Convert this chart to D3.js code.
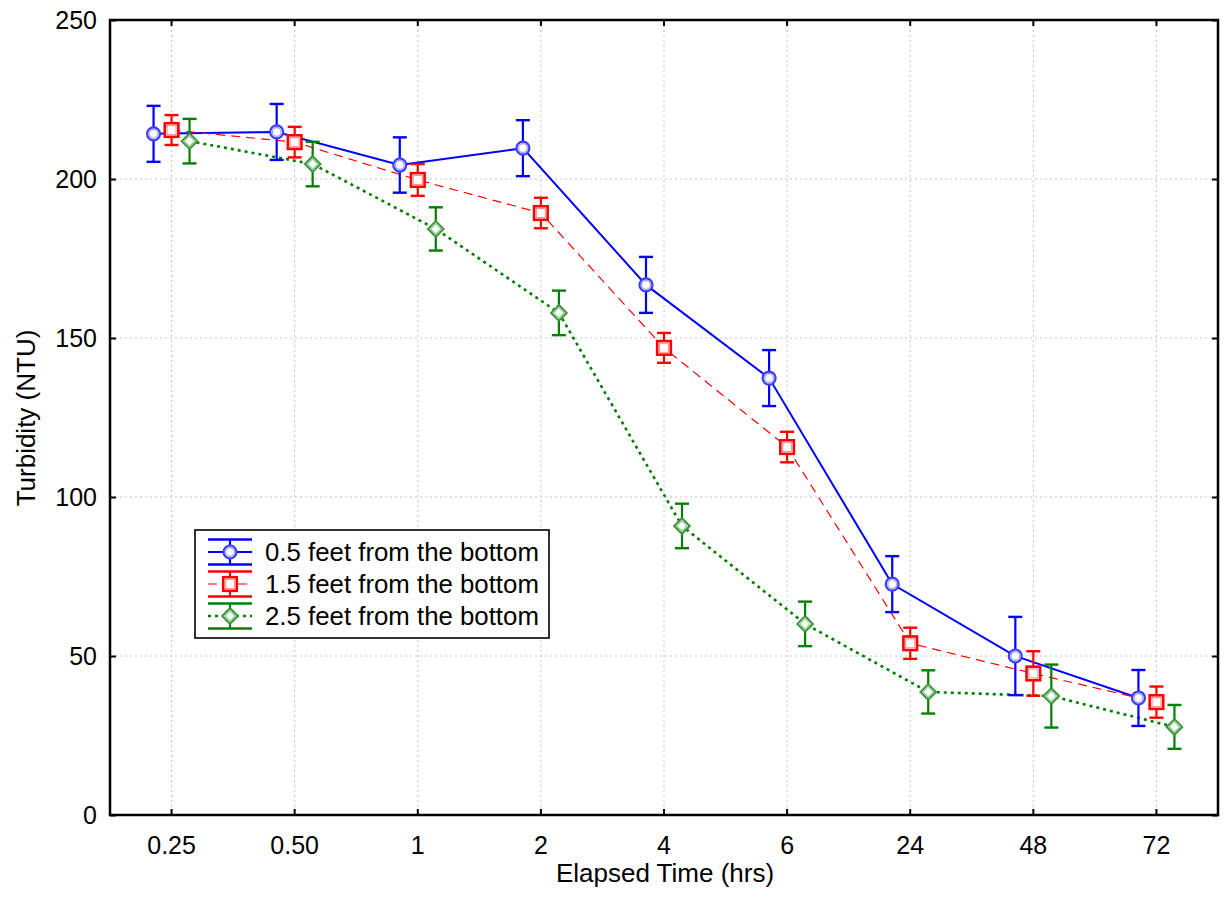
<!DOCTYPE html>
<html>
<head>
<meta charset="utf-8">
<script src="https://cdn.jsdelivr.net/npm/d3@7"></script>
<style>
  html, body { margin: 0; padding: 0; background: #fff; }
  svg { display: block; font-family: "Liberation Sans", Arial, sans-serif; }
</style>
</head>
<body>
<svg id="chart" width="1225" height="914"></svg>
<script>
// Elapsed time categories (hrs)
const categories = ["0.25", "0.50", "1", "2", "4", "6", "24", "48", "72"];
const yTicks = [0, 50, 100, 150, 200, 250];

// Mean turbidity (NTU) and error half-widths for each sampling depth
const series05Mean = [214.2, 214.8, 204.4, 209.7, 166.7, 137.4, 72.6, 50.0, 36.8];
const series05Err  = [8.8, 8.8, 8.7, 8.8, 8.8, 8.8, 8.8, 12.3, 8.8];
const series15Mean = [215.4, 211.6, 199.7, 189.3, 146.9, 115.7, 54.0, 44.5, 35.5];
const series15Err  = [4.7, 4.8, 5.0, 4.8, 4.7, 4.8, 4.9, 7.0, 4.9];
const series25Mean = [211.9, 204.7, 184.3, 157.9, 90.9, 60.1, 38.7, 37.4, 27.7];
const series25Err  = [7.0, 7.0, 6.8, 7.0, 7.0, 7.0, 6.8, 9.9, 6.9];

const seriesNames = ["0.5 feet from the bottom", "1.5 feet from the bottom", "2.5 feet from the bottom"];

const svg = d3.select("#chart");
const margin = { left: 110, top: 20, right: 1218, bottom: 815 };

const x = d3.scaleBand().domain(categories).range([margin.left, margin.right]);
const y = d3.scaleLinear().domain([0, 250]).range([margin.bottom, margin.top]);
const cx = c => x(c) + x.bandwidth() / 2;

const styles = [
  { color: "#0000ff", light: "#9999ff", dash: null, width: 2, shift: -18, marker: "circle" },
  { color: "#ff0000", light: "#ff9999", dash: "9,6", width: 1.2, shift: 0, marker: "square" },
  { color: "#007f00", light: "#88c488", dash: "3,4", width: 2.6, shift: 18, marker: "diamond" }
];
const stroke = ["#3b3bff", "#ff0000", "#3a943a"];

const data = [
  { name: seriesNames[0], mean: series05Mean, err: series05Err, st: styles[0] },
  { name: seriesNames[1], mean: series15Mean, err: series15Err, st: styles[1] },
  { name: seriesNames[2], mean: series25Mean, err: series25Err, st: styles[2] }
];

// Grid
const grid = svg.append("g").attr("stroke", "#c4c4c4").attr("stroke-width", 1).attr("stroke-dasharray", "2,3");
grid.selectAll("line.v").data(categories).join("line")
  .attr("x1", cx).attr("x2", cx).attr("y1", margin.top).attr("y2", margin.bottom);
grid.selectAll("line.h").data(yTicks.filter(t => t > 0 && t < 250)).join("line")
  .attr("x1", margin.left).attr("x2", margin.right).attr("y1", d => y(d)).attr("y2", d => y(d));

// Axes with inward ticks
const fontSize = 25;
const titleSize = 26;
const xAxis = svg.append("g").attr("transform", `translate(0,${margin.bottom})`)
  .call(d3.axisBottom(x).tickSizeInner(-6).tickSizeOuter(0).tickPadding(21));
const yAxis = svg.append("g").attr("transform", `translate(${margin.left},0)`)
  .call(d3.axisLeft(y).tickValues(yTicks).tickSizeInner(-6).tickSizeOuter(0).tickPadding(13));
const xTop = svg.append("g").attr("transform", `translate(0,${margin.top})`)
  .call(d3.axisTop(x).tickSizeInner(-6).tickSizeOuter(0).tickFormat(""));
const yRight = svg.append("g").attr("transform", `translate(${margin.right},0)`)
  .call(d3.axisRight(y).tickValues(yTicks).tickSizeInner(-6).tickSizeOuter(0).tickFormat(""));

[xAxis, yAxis, xTop, yRight].forEach(g => {
  g.select(".domain").remove();
  g.selectAll(".tick line").attr("stroke", "#000").attr("stroke-width", 2);
  g.selectAll(".tick text").attr("fill", "#000").style("font-size", fontSize + "px")
    .style("font-family", "'Liberation Sans', Arial, sans-serif");
});

// Frame
svg.append("rect").attr("x", margin.left).attr("y", margin.top)
  .attr("width", margin.right - margin.left).attr("height", margin.bottom - margin.top)
  .attr("fill", "none").attr("stroke", "#000").attr("stroke-width", 2.5);

// Axis titles
svg.append("text").attr("x", 665).attr("y", 882).attr("text-anchor", "middle")
  .style("font-size", titleSize + "px").text("Elapsed Time (hrs)");
svg.append("text").attr("transform", "translate(35,418) rotate(-90)").attr("text-anchor", "middle")
  .style("font-size", titleSize + "px").text("Turbidity (NTU)");

// Marker drawing
function drawMarker(g, type, color, light, px, py) {
  if (type === "circle") {
    g.append("circle").attr("cx", px).attr("cy", py).attr("r", 6.5)
      .attr("fill", "#fff").attr("stroke", color).attr("stroke-width", 2.2);
    g.append("circle").attr("cx", px).attr("cy", py).attr("r", 4.4)
      .attr("fill", "none").attr("stroke", light).attr("stroke-width", 1.2);
  } else if (type === "square") {
    g.append("rect").attr("x", px - 6.8).attr("y", py - 6.8).attr("width", 13.6).attr("height", 13.6)
      .attr("fill", "#fff").attr("stroke", color).attr("stroke-width", 2.6);
    g.append("rect").attr("x", px - 4.5).attr("y", py - 4.5).attr("width", 9).attr("height", 9)
      .attr("fill", "none").attr("stroke", light).attr("stroke-width", 1.2);
  } else {
    const s = 7.8;
    g.append("path").attr("d", `M${px},${py - s}L${px + s},${py}L${px},${py + s}L${px - s},${py}Z`)
      .attr("fill", "#fff").attr("stroke", color).attr("stroke-width", 2);
    const t = 5.2;
    g.append("path").attr("d", `M${px},${py - t}L${px + t},${py}L${px},${py + t}L${px - t},${py}Z`)
      .attr("fill", "none").attr("stroke", light).attr("stroke-width", 1.1);
  }
}

// Series lines
const line = d3.line().x(d => d.px).y(d => d.py);
data.forEach(s => {
  s.pts = categories.map((c, i) => ({
    px: cx(c) + s.st.shift,
    py: y(s.mean[i]),
    lo: y(s.mean[i] - s.err[i]),
    hi: y(s.mean[i] + s.err[i])
  }));
});
data.forEach(s => {
  svg.append("path").datum(s.pts).attr("d", line).attr("fill", "none")
    .attr("stroke", s.st.color).attr("stroke-width", s.st.width)
    .attr("stroke-dasharray", s.st.dash);
});

// Error bars and markers
data.forEach((s, si) => {
  const g = svg.append("g");
  s.pts.forEach(p => {
    g.append("line").attr("x1", p.px).attr("x2", p.px).attr("y1", p.lo).attr("y2", p.hi)
      .attr("stroke", s.st.color).attr("stroke-width", 2.2);
    [p.lo, p.hi].forEach(v => g.append("line").attr("x1", p.px - 7).attr("x2", p.px + 7)
      .attr("y1", v).attr("y2", v).attr("stroke", s.st.color).attr("stroke-width", 2.4));
  });
  s.pts.forEach(p => drawMarker(g, s.st.marker, stroke[si], s.st.light, p.px, p.py));
});

// Legend
const lg = svg.append("g");
lg.append("rect").attr("x", 195).attr("y", 530).attr("width", 354).attr("height", 108)
  .attr("fill", "#fff").attr("stroke", "#000").attr("stroke-width", 1.6);
const rowY = [552, 584, 616];
data.forEach((s, i) => {
  const cy = rowY[i], sx = 230, half = 22, capOff = 12.5;
  lg.append("line").attr("x1", sx - half).attr("x2", sx + half).attr("y1", cy).attr("y2", cy)
    .attr("stroke", s.st.color).attr("stroke-width", s.st.width).attr("stroke-dasharray", s.st.dash);
  lg.append("line").attr("x1", sx).attr("x2", sx).attr("y1", cy - capOff).attr("y2", cy + capOff)
    .attr("stroke", s.st.color).attr("stroke-width", 2.2);
  [cy - capOff, cy + capOff].forEach(v => lg.append("line").attr("x1", sx - half).attr("x2", sx + half)
    .attr("y1", v).attr("y2", v).attr("stroke", s.st.color).attr("stroke-width", 2.4));
  drawMarker(lg, s.st.marker, stroke[i], s.st.light, sx, cy);
  lg.append("text").attr("x", 265).attr("y", cy).attr("dy", "0.36em")
    .style("font-size", "25.8px").text(s.name);
});
</script>
</body>
</html>
